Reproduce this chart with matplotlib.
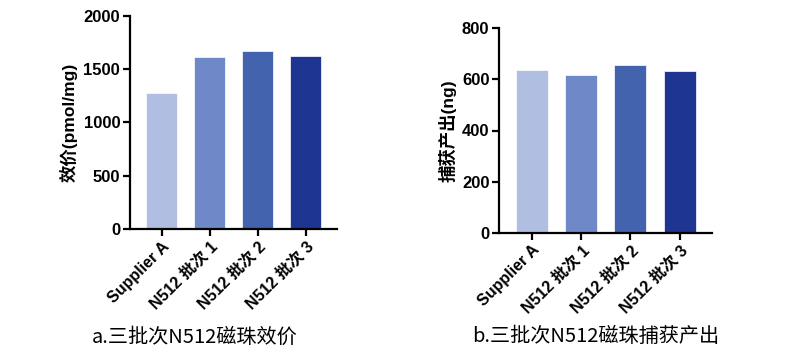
import matplotlib
matplotlib.use("Agg")
import matplotlib.pyplot as plt

plt.rcParams["font.family"] = ["Liberation Sans", "Noto Sans CJK SC", "DejaVu Sans"]

# ---- data
groups = ["Supplier A", "N512 批次 1", "N512 批次 2", "N512 批次 3"]
potency = [1277, 1612, 1671, 1624]        # pmol/mg
capture = [637, 618, 657, 634]            # ng
colors = ["#B0BEE1", "#6F89C8", "#4463AE", "#1F3592"]

fig = plt.figure(figsize=(7.91, 3.6), dpi=100)
ax1 = fig.add_axes([0.1643, 0.364, 0.2617, 0.592])
ax2 = fig.add_axes([0.631, 0.354, 0.269, 0.567])


def style(ax, vals, ymax, step, ylabel):
    x = range(len(vals))
    ax.bar(x, vals, width=0.65, color=colors, edgecolor="white", linewidth=0.5)
    ax.set_ylim(0, ymax)
    ax.set_yticks(range(0, ymax + 1, step))
    ax.set_xlim(-0.66, 3.65)
    ax.set_xticks(list(x))
    ax.set_xticklabels(groups, rotation=45, ha="right", rotation_mode="anchor",
                       fontsize=11.5, fontweight="bold")
    for lab in ax.get_yticklabels():
        lab.set_fontsize(12)
        lab.set_fontweight("bold")
    ax.set_ylabel(ylabel, fontsize=12.5, fontweight="bold", labelpad=4)
    for s in ["top", "right"]:
        ax.spines[s].set_visible(False)
    for s in ["left", "bottom"]:
        ax.spines[s].set_linewidth(1.6)
    ax.tick_params(axis="both", width=1.6, length=5, pad=2)


style(ax1, potency, 2000, 500, "效价(pmol/mg)")
style(ax2, capture, 800, 200, "捕获产出(ng)")

cap_font = ["Noto Sans CJK SC", "DejaVu Sans"]
fig.text(0.116, 0.064, "a.三批次N512磁珠效价", fontsize=14.5, va="center", family=cap_font)
fig.text(0.597, 0.064, "b.三批次N512磁珠捕获产出", fontsize=14.5, va="center", family=cap_font)

fig.savefig("out.png", dpi=100)
